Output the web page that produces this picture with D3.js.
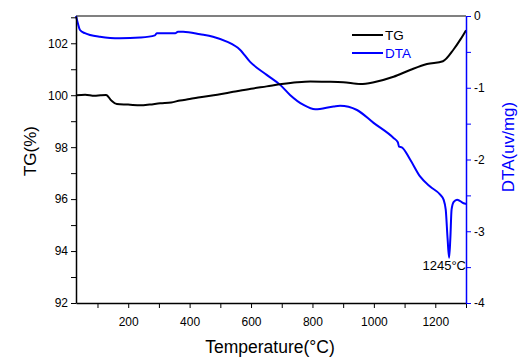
<!DOCTYPE html>
<html>
<head>
<meta charset="utf-8">
<script src="https://cdn.jsdelivr.net/npm/d3@7"></script>
<style>
  body { margin: 0; background: #fff; }
  svg { font-family: "Liberation Sans", Arial, sans-serif; }
</style>
</head>
<body>
<svg id="chart" width="528" height="362"></svg>
<script>
// TG curve (temperature, %)
var tgTemp = [30, 60, 90, 110, 128, 145, 163, 200, 240, 270, 304, 340, 369, 400, 434, 490, 542, 600, 651, 700, 750, 793, 847, 900, 956, 1000, 1064, 1118, 1173, 1225, 1260, 1282, 1300];
var tgVal = [100.0, 100.02, 99.98, 100.0, 100.01, 99.8, 99.66, 99.64, 99.61, 99.64, 99.69, 99.72, 99.8, 99.85, 99.92, 100.02, 100.13, 100.25, 100.34, 100.43, 100.5, 100.53, 100.52, 100.5, 100.43, 100.5, 100.71, 100.97, 101.2, 101.31, 101.77, 102.15, 102.5];

// DTA curve (temperature, uv/mg)
var dtaTemp = [30, 36, 43, 59, 76, 108, 141, 173, 239, 287, 293, 353, 362, 379, 434, 476, 521, 564, 597, 651, 695, 727, 771, 809, 869, 890, 945, 999, 1064, 1078, 1082, 1091, 1118, 1151, 1184, 1216, 1227, 1234, 1240, 1245, 1249, 1253, 1260, 1271, 1292, 1300];
var dtaVal = [0, -0.1, -0.195, -0.24, -0.265, -0.29, -0.306, -0.311, -0.3, -0.27, -0.24, -0.24, -0.218, -0.22, -0.255, -0.288, -0.357, -0.47, -0.64, -0.82, -0.96, -1.1, -1.24, -1.3, -1.26, -1.25, -1.31, -1.49, -1.7, -1.76, -1.82, -1.83, -2.0, -2.24, -2.38, -2.49, -2.56, -2.7, -3.1, -3.37, -3.1, -2.7, -2.59, -2.56, -2.61, -2.62];

var xTicks = [200, 400, 600, 800, 1000, 1200];
var tgTicks = [92, 94, 96, 98, 100, 102];
var dtaTicks = [0, -1, -2, -3, -4];

var dim = { width: 528, height: 362, margin: { top: 16, right: 62, bottom: 59, left: 76 } };
var svg = d3.select("#chart");
var blue = "#0000ff";

var xScale = d3.scaleLinear().domain([30, 1300])
  .range([dim.margin.left, dim.width - dim.margin.right]);
var yTG = d3.scaleLinear().domain([92, 103.05])
  .range([dim.height - dim.margin.bottom, dim.margin.top]);
var yDTA = d3.scaleLinear().domain([-4, 0])
  .range([dim.height - dim.margin.bottom, dim.margin.top]);

// top frame line
svg.append("line")
  .attr("x1", dim.margin.left).attr("x2", dim.width - dim.margin.right)
  .attr("y1", dim.margin.top).attr("y2", dim.margin.top)
  .attr("stroke", "#808080").attr("stroke-width", 2);

// curves
var tgLine = d3.line().x((d, i) => xScale(tgTemp[i])).y((d) => yTG(d)).curve(d3.curveMonotoneX);
var dtaLine = d3.line().x((d, i) => xScale(dtaTemp[i])).y((d) => yDTA(d)).curve(d3.curveMonotoneX);

svg.append("path").datum(dtaVal)
  .attr("d", dtaLine).attr("fill", "none")
  .attr("stroke", blue).attr("stroke-width", 2).attr("stroke-linejoin", "round");
svg.append("path").datum(tgVal)
  .attr("d", tgLine).attr("fill", "none")
  .attr("stroke", "#000").attr("stroke-width", 2).attr("stroke-linejoin", "round");

// axes
function styleAxis(g, color) {
  g.selectAll("path").attr("stroke", color).attr("stroke-width", 1.5);
  g.selectAll("line").attr("stroke", color).attr("stroke-width", 1);
  g.selectAll("text").attr("fill", "#000").style("font-size", "12px")
    .style("font-family", "Liberation Sans, Arial, sans-serif");
}

var xMinor = d3.range(100, 1301, 100);
svg.append("g")
  .attr("transform", `translate(0,${dim.height - dim.margin.bottom})`)
  .call(d3.axisBottom(xScale).tickValues(xMinor).tickSize(5).tickSizeOuter(0)
    .tickFormat((d) => (xTicks.includes(d) ? d : "")))
  .call((g) => styleAxis(g, "#000"))
  .call((g) => g.selectAll("text").attr("dy", "1.25em"));

var tgMinor = d3.range(92, 103.01, 1);
svg.append("g")
  .attr("transform", `translate(${dim.margin.left},0)`)
  .call(d3.axisLeft(yTG).tickValues(tgMinor).tickSize(5).tickSizeOuter(0)
    .tickFormat((d) => (tgTicks.includes(d) ? d : "")))
  .call((g) => styleAxis(g, "#000"));

var dtaMinor = d3.range(-4, 0.01, 0.5);
svg.append("g")
  .attr("transform", `translate(${dim.width - dim.margin.right},0)`)
  .call(d3.axisRight(yDTA).tickValues(dtaMinor).tickSize(5).tickSizeOuter(0)
    .tickFormat((d) => (dtaTicks.includes(d) ? d : "")))
  .call((g) => styleAxis(g, blue));

// axis titles
svg.append("text")
  .attr("transform", "translate(36,151) rotate(-90)")
  .attr("text-anchor", "middle").style("font-size", "17px")
  .text("TG(%)");
svg.append("text")
  .attr("transform", "translate(514,147) rotate(-90)")
  .attr("text-anchor", "middle").style("font-size", "17px").attr("fill", blue)
  .text("DTA(uv/mg)");
svg.append("text")
  .attr("x", 270).attr("y", 353)
  .attr("text-anchor", "middle").style("font-size", "17.5px")
  .text("Temperature(°C)");

// peak label
svg.append("text")
  .attr("x", 466).attr("y", 270)
  .attr("text-anchor", "end").style("font-size", "13px")
  .text("1245°C");

// legend
var legend = [
  { name: "TG", color: "#000", y: 35 },
  { name: "DTA", color: blue, y: 53 },
];
legend.forEach((d) => {
  svg.append("line")
    .attr("x1", 352).attr("x2", 383).attr("y1", d.y).attr("y2", d.y)
    .attr("stroke", d.color).attr("stroke-width", 2);
  svg.append("text")
    .attr("x", 385).attr("y", d.y + 5)
    .attr("fill", d.color).style("font-size", "13.5px")
    .text(d.name);
});
</script>
</body>
</html>
